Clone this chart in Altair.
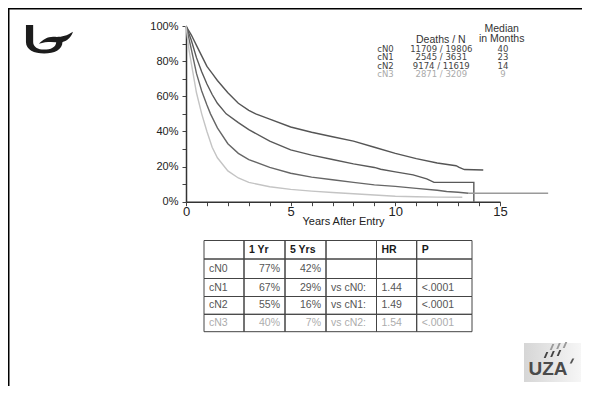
import altair as alt
import pandas as pd

# ---------------- data ----------------
groups = ["cN0", "cN1", "cN2", "cN3"]
deaths = [11709, 2545, 9174, 2871]
totals = [19806, 3631, 11619, 3209]
median_months = [40, 23, 14, 9]

cN0_t = [0, 0.1, 0.25, 0.5, 0.75, 1, 1.25, 1.5, 2, 2.5, 3, 3.33, 4, 5, 6, 7, 8, 9, 10, 11, 12, 12.9, 13.05, 13.3, 14.2]
cN0_s = [100, 98, 95, 89, 83, 77, 73, 69, 62, 56, 52, 50, 47, 42.5, 39.5, 37, 34.5, 31, 27.5, 24.5, 22, 20.5, 19.5, 18.3, 18]

cN1_t = [0, 0.1, 0.25, 0.5, 0.75, 1, 1.25, 1.5, 1.92, 2.5, 3, 4, 5, 6, 7, 8, 9, 9.3, 10, 10.85, 11.5, 11.85, 13.75, 13.75]
cN1_s = [100, 97, 92, 82, 74, 67, 61, 56, 50, 45, 41, 34.5, 29.5, 26.5, 24, 21.5, 19.5, 18.5, 17, 15.3, 13, 11, 11, 0]

cN2_t = [0, 0.1, 0.25, 0.5, 0.75, 1, 1.17, 1.5, 2, 2.5, 3, 4, 5, 6, 7, 8, 9, 10, 11, 12, 12.45, 13, 13.5]
cN2_s = [100, 95, 87, 73, 63, 55, 50, 42, 33, 27.5, 24, 19.5, 16.2, 14, 12.5, 11, 9.6, 8.7, 7.6, 6.5, 5.8, 5.4, 4.8]

cN3_t = [0, 0.05, 0.15, 0.25, 0.5, 0.75, 1, 1.25, 1.5, 2, 2.5, 3, 4, 5, 6, 7, 8, 9, 10, 11, 12, 13.2]
cN3_s = [100, 95, 86, 79, 62, 50, 40, 31, 25, 17.5, 13.5, 11, 8.5, 7, 6, 5.2, 4.5, 3.8, 3.1, 2.8, 2.6, 2.5]

tail_t = [13.5, 17.3]
tail_s = [4.8, 4.8]

x_ticks = list(range(0, 16))
y_ticks = list(range(0, 101, 10))

table_header = ["", "1 Yr", "5 Yrs", "", "HR", "P"]
yr1 = ["77%", "67%", "55%", "40%"]
yr5 = ["42%", "29%", "16%", "7%"]
vs_label = ["", "vs cN0:", "vs cN1:", "vs cN2:"]
hr = ["", "1.44", "1.49", "1.54"]
pval = ["", "<.0001", "<.0001", "<.0001"]

# ---------------- tables for the library ----------------
series = {"cN0": (cN0_t, cN0_s), "cN1": (cN1_t, cN1_s), "cN2": (cN2_t, cN2_s),
          "cN3": (cN3_t, cN3_s), "tail": (tail_t, tail_s)}
km_rows = []
for g, (ts, ss) in series.items():
    for i, (t, s) in enumerate(zip(ts, ss)):
        km_rows.append({"group": g, "t": t, "s": s, "order": i})
km = pd.DataFrame(km_rows)

legend_df = pd.DataFrame({"group": groups, "deaths": deaths, "total": totals, "median": median_months})

table_rows = [table_header] + [list(r) for r in zip(groups, yr1, yr5, vs_label, hr, pval)]
cells = []
for r, row in enumerate(table_rows):
    for c, txt in enumerate(row):
        cells.append({"r": r, "c": c, "txt": txt, "tone": "head" if r == 0 else groups[r - 1]})
table_df = pd.DataFrame(cells)

FONT = "Liberation Sans"
LFONT = "DejaVu Sans"
W, H = 574, 378

# ---------------- KM plot ----------------
xs = alt.Scale(domain=[0, 15], range=[178, 492], nice=False, zero=False)
ys = alt.Scale(domain=[0, 100], range=[193.7, 18], nice=False, zero=False)
axis_common = dict(domainColor="#333333", domainWidth=1.5, tickColor="#444444", tickWidth=1,
                   grid=False, labelFont=FONT, titleFont=FONT, labelColor="#222222",
                   titleColor="#222222", labelOverlap=False)

km_chart = alt.Chart(km).mark_line(strokeWidth=1.4).encode(
    x=alt.X("t:Q", scale=xs, axis=alt.Axis(
        values=x_ticks, labelExpr="datum.value % 5 === 0 ? datum.label : ''",
        offset=-184.3, tickSize=4, labelPadding=0, labelFontSize=13, labelFlush=False,
        title="Years After Entry", titleFontSize=11, titleFontWeight="normal", titlePadding=-3,
        **axis_common)),
    y=alt.Y("s:Q", scale=ys, axis=alt.Axis(
        values=y_ticks, labelExpr="datum.value % 20 === 0 ? datum.value + '%' : ''",
        offset=-178, tickSize=4, labelPadding=4, labelFontSize=11, title=None, **axis_common)),
    color=alt.Color("group:N", scale=alt.Scale(domain=groups + ["tail"],
                    range=["#555555", "#595959", "#666666", "#c4c4c4", "#9a9a9a"]), legend=None),
    detail="group:N",
    order="order:Q",
)

# ---------------- legend text (top right) ----------------
ly = alt.Scale(domain=groups, range=[40.55, 66.05], padding=0)
lcol = alt.Scale(domain=groups, range=["#444444", "#444444", "#444444", "#aaaaaa"])
leg_base = alt.Chart(legend_df).transform_calculate(
    dn="datum.deaths + ' / ' + datum.total")
leg_style = dict(font=LFONT, fontSize=8.5, baseline="middle")
leg_lab = leg_base.mark_text(align="left", **leg_style).encode(
    x=alt.value(369.3), y=alt.Y("group:N", scale=ly, axis=None), text="group:N",
    color=alt.Color("group:N", scale=lcol, legend=None))
leg_dn = leg_base.mark_text(align="center", **leg_style).encode(
    x=alt.value(433.3), y=alt.Y("group:N", scale=ly, axis=None), text="dn:N",
    color=alt.Color("group:N", scale=lcol, legend=None))
leg_md = leg_base.mark_text(align="center", **leg_style).encode(
    x=alt.value(495), y=alt.Y("group:N", scale=ly, axis=None), text="median:Q",
    color=alt.Color("group:N", scale=lcol, legend=None))

deco = alt.Chart(legend_df.head(1))
hdr_style = dict(font=FONT, fontSize=10.5, align="center", baseline="middle", color="#333333")
hdr1 = deco.mark_text(text="Deaths / N", **hdr_style).encode(x=alt.value(432.8), y=alt.value(31.5))
hdr2 = deco.mark_text(text="Median", **hdr_style).encode(x=alt.value(493.7), y=alt.value(20.5))
hdr3 = deco.mark_text(text="in Months", **hdr_style).encode(x=alt.value(493.7), y=alt.value(31.3))

# ---------------- table ----------------
tx = alt.Scale(domain=[0, 1, 2, 3, 4, 5, 6], range=[196, 236, 277, 318, 368.5, 408.7, 464],
               nice=False, zero=False)
ty = alt.Scale(domain=[0, 1, 2, 3, 4, 5], range=[232.5, 251, 270.5, 288.5, 306.3, 323.7],
               nice=False, zero=False)
tcol = alt.Scale(domain=["head"] + groups, range=["#1a1a1a", "#555555", "#555555", "#555555", "#acacac"])

tbase = alt.Chart(table_df).transform_calculate(c1="datum.c + 1", r1="datum.r + 1", rm="datum.r + 0.5")
cells_chart = tbase.mark_rect(fillOpacity=0, stroke="#444444", strokeWidth=1).encode(
    x=alt.X("c:Q", scale=tx, axis=None), x2="c1:Q",
    y=alt.Y("r:Q", scale=ty, axis=None), y2="r1:Q")
txt_head = tbase.transform_filter("datum.r === 0").mark_text(
    font=FONT, fontSize=10.5, fontWeight="bold", align="left", baseline="middle", dx=5).encode(
    x=alt.X("c:Q", scale=tx, axis=None), y=alt.Y("rm:Q", scale=ty, axis=None), text="txt:N",
    color=alt.Color("tone:N", scale=tcol, legend=None))
txt_left = tbase.transform_filter("datum.r > 0 && (datum.c === 0 || datum.c >= 3)").mark_text(
    font=FONT, fontSize=10.5, align="left", baseline="middle", dx=5).encode(
    x=alt.X("c:Q", scale=tx, axis=None), y=alt.Y("rm:Q", scale=ty, axis=None), text="txt:N",
    color=alt.Color("tone:N", scale=tcol, legend=None))
txt_right = tbase.transform_filter("datum.r > 0 && (datum.c === 1 || datum.c === 2)").mark_text(
    font=FONT, fontSize=10.5, align="right", baseline="middle", dx=-5).encode(
    x=alt.X("c1:Q", scale=tx, axis=None), y=alt.Y("rm:Q", scale=ty, axis=None), text="txt:N",
    color=alt.Color("tone:N", scale=tcol, legend=None))

# ---------------- slide decoration ----------------
border_top = deco.mark_rule(color="black", strokeWidth=2).encode(
    x=alt.value(0), x2=alt.value(W), y=alt.value(0.5))
border_left = deco.mark_rule(color="black", strokeWidth=2).encode(
    x=alt.value(0.5), y=alt.value(0), y2=alt.value(H))

u_path = ("M-0.96,-0.58 L-0.96,0.12 C-0.96,0.44 -0.62,0.6 -0.2,0.6 C0.22,0.6 0.56,0.44 0.56,0.12 "
          "L0.56,-0.04 L0.3,-0.04 L0.3,0.12 C0.3,0.34 0.06,0.44 -0.2,0.44 "
          "C-0.46,0.44 -0.66,0.32 -0.66,0.12 L-0.66,-0.58 Z")
wave_path = ("M-0.42,0.2 C-0.25,0.02 -0.05,-0.1 0.2,-0.09 C0.45,-0.07 0.7,-0.1 1.0,-0.3 "
             "C0.9,-0.02 0.7,0.14 0.45,0.14 C0.2,0.13 -0.1,0.09 -0.42,0.2 Z")
logo_u = deco.mark_point(shape=u_path, filled=True, fill="#1c1c1c", opacity=1, strokeWidth=0,
                         size=2304).encode(x=alt.value(41), y=alt.value(31))
logo_w = deco.mark_point(shape=wave_path, filled=True, fill="#1c1c1c", opacity=1, strokeWidth=0,
                         size=2304).encode(x=alt.value(41), y=alt.value(31))


def strokes(centers, h=3.0, unit=12.0, cx0=556.0, cy0=350.0):
    parts = []
    for (cx, cy) in centers:
        pts = [(cx - 2.3, cy + h), (cx - 0.3, cy + h), (cx + 2.3, cy - h), (cx + 0.3, cy - h)]
        pts = [((px - cx0) / unit, (py - cy0) / unit) for px, py in pts]
        parts.append("M" + " L".join(f"{u:.3f},{v:.3f}" for u, v in pts) + " Z")
    return " ".join(parts)


uza_box = deco.mark_rect(fill=alt.LinearGradient(
    gradient="linear", x1=0, x2=1, y1=0, y2=0,
    stops=[alt.GradientStop(offset=0, color="#d6d6d6"), alt.GradientStop(offset=1, color="#f6f6f6")])
).encode(x=alt.value(516), x2=alt.value(573), y=alt.value(335), y2=alt.value(374))
uza_txt = deco.mark_text(text="UZA", font=FONT, fontWeight="bold", fontSize=19, color="#4a4a4a",
                         align="center", baseline="alphabetic").encode(x=alt.value(540), y=alt.value(367))
uza_dark = deco.mark_point(shape=strokes([(546, 355), (552.5, 354), (559, 353)]), filled=True,
                           fill="#444444", opacity=1, strokeWidth=0, size=576).encode(
    x=alt.value(548), y=alt.value(342))
uza_light = deco.mark_point(shape=strokes([(552, 347), (558.5, 346), (565, 345)]), filled=True,
                            fill="#9a9a9a", opacity=1, strokeWidth=0, size=576).encode(
    x=alt.value(548), y=alt.value(342))
uza_prime = deco.mark_point(shape=strokes([(572, 361)], h=2.5), filled=True,
                            fill="#555555", opacity=1, strokeWidth=0, size=576).encode(
    x=alt.value(548), y=alt.value(342))

chart = alt.layer(
    border_top, border_left, logo_u, logo_w,
    km_chart,
    leg_lab, leg_dn, leg_md, hdr1, hdr2, hdr3,
    cells_chart, txt_head, txt_left, txt_right,
    uza_box, uza_txt, uza_dark, uza_light, uza_prime,
).resolve_scale(
    x="independent", y="independent", color="independent"
).properties(
    width=W, height=H, autosize=alt.AutoSizeParams(type="none"), padding=0, background="white"
).configure_view(stroke=None)

chart.save("out.html", embed_options={"renderer": "svg", "actions": False})
